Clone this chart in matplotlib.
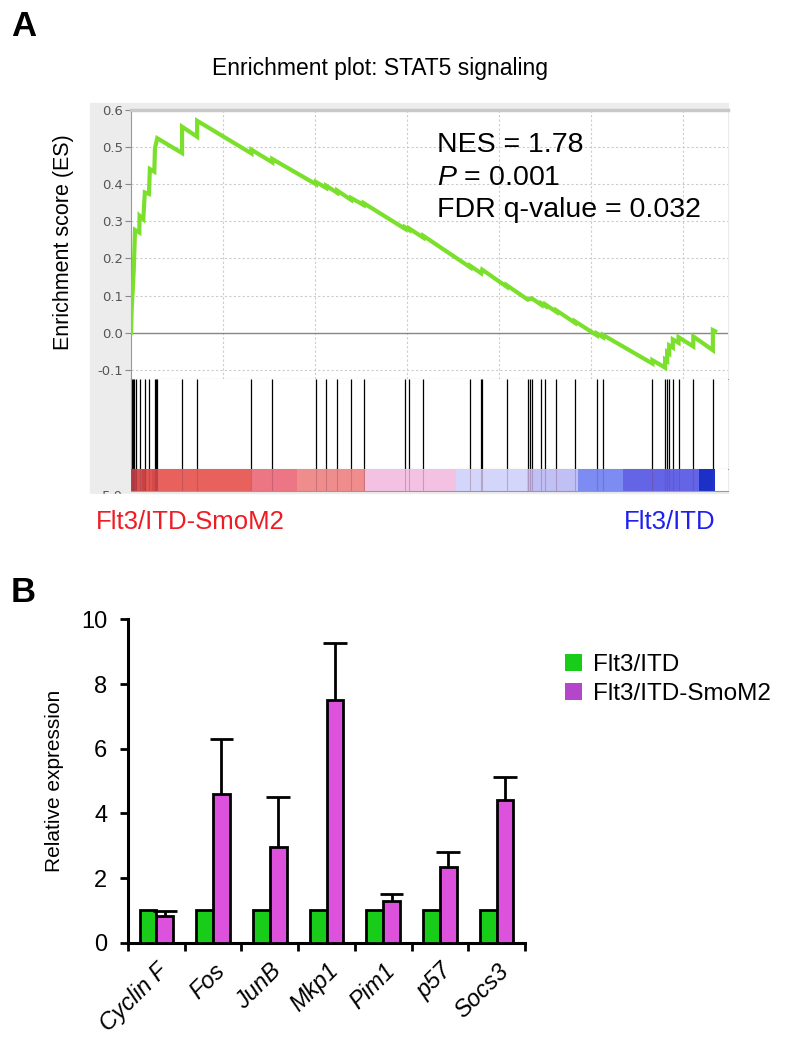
import matplotlib
matplotlib.use("Agg")
import matplotlib.pyplot as plt
from matplotlib.patches import Rectangle, Patch
import numpy as np

plt.rcParams['font.family'] = ['Liberation Sans', 'DejaVu Sans']
plt.rcParams['mathtext.fontset'] = 'custom'
plt.rcParams['mathtext.rm'] = 'Liberation Sans'
plt.rcParams['mathtext.it'] = 'Liberation Sans:italic'

# ---------------- Panel A data ----------------
es_rank = [0, 15, 40, 62, 87, 181, 186, 268, 300, 391, 410, 507, 521, 570,
           1110, 1110, 1438, 1438, 2619, 2619, 3072, 3072, 4022, 4022, 4244, 4244,
           4483, 4483, 4785, 4785, 5060, 5060, 5957, 5957, 6046, 6046, 6357, 6357,
           7378, 7378, 7617, 7635, 8168, 8168, 8630, 8683, 8709, 8922, 8922, 9011, 9011,
           9251, 9251, 9650, 9650, 10130, 10130, 10263, 10263, 11337, 11337, 11612, 11612,
           11657, 11657, 11701, 11701, 11781, 11781, 11905, 11905, 12225, 12225,
           12651, 12651, 12700]
es_value = [0.000, 0.066, 0.121, 0.176, 0.277, 0.270, 0.315, 0.306, 0.378, 0.374, 0.441, 0.434, 0.497, 0.524,
            0.484, 0.555, 0.528, 0.571, 0.483, 0.493, 0.459, 0.468, 0.400, 0.406, 0.390, 0.396,
            0.377, 0.383, 0.358, 0.363, 0.344, 0.349, 0.280, 0.284, 0.277, 0.281, 0.256, 0.261,
            0.176, 0.180, 0.160, 0.170, 0.124, 0.128, 0.089, 0.092, 0.093, 0.075, 0.079, 0.072, 0.076,
            0.056, 0.060, 0.027, 0.031, -0.007, -0.002, -0.012, -0.006, -0.083, -0.074, -0.094, -0.072,
            -0.076, -0.052, -0.056, -0.034, -0.040, -0.018, -0.027, -0.012, -0.037, -0.010,
            -0.047, 0.007, 0.004]
hit_rank = [20, 44, 70, 98, 186, 311, 400, 515, 542, 568, 1110, 1438, 2619, 3072, 4022, 4244,
            4483, 4785, 5060, 5957, 6046, 6357, 7378, 7617, 7635, 8168, 8630, 8683, 8709,
            8922, 9011, 9251, 9650, 10130, 10263, 11337, 11612, 11657, 11701, 11781, 11905,
            12225, 12651]
cbar_edges = [0, 130, 250, 330, 450, 590, 2610, 3610, 5090, 7070, 8610, 9720, 10700, 12350, 12700]
cbar_colors = ['#cc3a3a', '#d9504c', '#c94242', '#de5552', '#d84a48', '#e8615d', '#ec7683',
               '#ee8d8b', '#f3c2e2', '#d3d5fa', '#c1c0f5', '#7c8cf2', '#6464e6', '#1b30c6']
n_genes_axis = 12980
es_yticks = [0.6, 0.5, 0.4, 0.3, 0.2, 0.1, 0.0, -0.1]

# ---------------- Panel B data ----------------
genes = ['Cyclin F', 'Fos', 'JunB', 'Mkp1', 'Pim1', 'p57', 'Socs3']
itd = [1.0, 1.0, 1.0, 1.0, 1.0, 1.0, 1.0]
smo = [0.83, 4.59, 2.97, 7.50, 1.30, 2.33, 4.41]
smo_err = [0.15, 1.70, 1.55, 1.78, 0.21, 0.47, 0.72]

W, H = 798, 1050
fig = plt.figure(figsize=(W / 100, H / 100), dpi=100)

def fx(px):
    return px / W

def fy(py):
    return 1 - py / H

def box(l, t, r, b):
    return [fx(l), fy(b), (r - l) / W, (b - t) / H]

# grey background of GSEA plot
fig.add_artist(Rectangle((fx(90), fy(493)), (728 - 90) / W, (493 - 103) / H,
                         transform=fig.transFigure, color='#ececec', zorder=-10))

# ES axis
ax = fig.add_axes(box(131, 110, 728, 379))
ax.plot(es_rank, es_value, color='#7be02c', lw=3.0, solid_joinstyle='miter', zorder=3)
ax.axhline(0, color='#888888', lw=1.0, zorder=2)
ax.set_xlim(0, n_genes_axis)
ax.set_ylim(-0.1246, 0.6)
ax.set_yticks(es_yticks)
ax.set_yticklabels([f'{v:.1f}' for v in es_yticks], family='DejaVu Sans', fontsize=9.5, color='#555555')
ax.set_xticks(np.arange(0, n_genes_axis, 2000))
ax.tick_params(axis='x', length=0, labelbottom=False)
ax.tick_params(axis='y', length=4, color='#888888', pad=2)
ax.grid(True, color='#cccccc', lw=0.8, ls=(0, (2, 2)))
ax.spines['right'].set_visible(False)
ax.spines['top'].set_color('#c8c8c8')
ax.spines['top'].set_linewidth(2.5)
ax.spines['left'].set_color('#999999')
ax.spines['bottom'].set_color('#999999')
ax.set_axisbelow(True)

# Hits axis
axh = fig.add_axes(box(131, 379, 728, 469))
axh.vlines(hit_rank, 0, 1, color='black', lw=0.9)
axh.set_xlim(0, n_genes_axis)
axh.set_ylim(0, 1)
axh.set_xticks([]); axh.set_yticks([])
axh.spines['top'].set_visible(False)
axh.spines['right'].set_visible(False)
axh.spines['left'].set_color('#999999')
axh.spines['bottom'].set_color('#999999')

# Color bar of ranked list
axc = fig.add_axes(box(131, 469, 728, 491))
for i, c in enumerate(cbar_colors):
    axc.axvspan(cbar_edges[i], cbar_edges[i + 1], color=c, lw=0)
axc.vlines(hit_rank, 0, 1, color='#7a3a50', lw=0.8, alpha=0.3)
axc.set_xlim(0, n_genes_axis)
axc.set_ylim(0, 1)
axc.set_xticks([]); axc.set_yticks([])
for s in ['top', 'right', 'left']:
    axc.spines[s].set_visible(False)
axc.spines['bottom'].set_color('#999999')

fig.text(fx(123), fy(497), '5.0', ha='right', va='center', family='DejaVu Sans',
         fontsize=9.5, color='#555555')
fig.add_artist(Rectangle((fx(80), fy(506)), 60 / W, 12 / H, transform=fig.transFigure,
                         color='white', zorder=5))

fig.text(fx(380), fy(68), 'Enrichment plot: STAT5 signaling', ha='center', va='center', fontsize=16.5)
fig.text(fx(64), fy(242), 'Enrichment score (ES)', ha='center', va='center', rotation=90, fontsize=15.5)
fig.text(fx(437), fy(145), 'NES = 1.78', ha='left', va='center', fontsize=20.5)
fig.text(fx(437), fy(178), '$P$ = 0.001', ha='left', va='center', fontsize=20.5)
fig.text(fx(437), fy(210), 'FDR q-value = 0.032', ha='left', va='center', fontsize=20.5)
fig.text(fx(96), fy(522), 'Flt3/ITD-SmoM2', ha='left', va='center', fontsize=18.5, color='#ee1c24')
fig.text(fx(715), fy(522), 'Flt3/ITD', ha='right', va='center', fontsize=18.5, color='#2020ee')

fig.text(fx(11), fy(26), 'A', ha='left', va='center', fontsize=25, fontweight='bold')
fig.text(fx(11), fy(592), 'B', ha='left', va='center', fontsize=25, fontweight='bold')

# ---------------- Panel B ----------------
axb = fig.add_axes(box(128, 619.5, 525, 942.7))
x = np.arange(len(genes))
bw = 0.295
green = '#19cc19'
purple = '#dc52dc'
axb.bar(x - bw / 2, itd, width=bw, color=green, edgecolor='black', lw=2.0, zorder=3)
axb.bar(x + bw / 2, smo, width=bw, color=purple, edgecolor='black', lw=2.0, zorder=3)
tops = np.array(smo)
errs = np.array(smo_err)
axb.vlines(x + bw / 2, tops, tops + errs, color='black', lw=2.0, zorder=2)
axb.hlines(tops + errs, x + bw / 2 - 0.21, x + bw / 2 + 0.21, color='black', lw=2.0, zorder=4)
axb.set_xlim(-0.5, len(genes) - 0.5)
axb.set_ylim(0, 10)
axb.set_yticks([0, 2, 4, 6, 8, 10])
axb.set_yticklabels(['0', '2', '4', '6', '8', '10'], fontsize=17)
axb.set_xticks(np.arange(-0.5, len(genes), 1.0))
axb.set_xticklabels([])
axb.set_xticks(x, minor=True)
axb.set_xticklabels(genes, minor=True, rotation=45, ha='right', va='top',
                    rotation_mode='anchor', fontsize=17, style='italic')
axb.tick_params(axis='x', which='minor', length=0, pad=12)
axb.tick_params(axis='x', which='major', length=6, width=2.0, direction='out')
axb.tick_params(axis='y', length=6, width=2.0, pad=9)
for s in ['top', 'right']:
    axb.spines[s].set_visible(False)
for s in ['left', 'bottom']:
    axb.spines[s].set_linewidth(2.2)
fig.text(fx(55), fy(781), 'Relative expression', ha='center', va='center', rotation=90, fontsize=15)

handles = [Patch(facecolor=green, edgecolor='none', label='Flt3/ITD'),
           Patch(facecolor='#b446cc', edgecolor='none', label='Flt3/ITD-SmoM2')]
fig.legend(handles=handles, loc='upper left', bbox_to_anchor=(fx(543), fy(632)), frameon=False,
           fontsize=17.5, handlelength=0.7, handleheight=0.7, handletextpad=0.45, labelspacing=0.28)

fig.savefig('out.png', dpi=100)
